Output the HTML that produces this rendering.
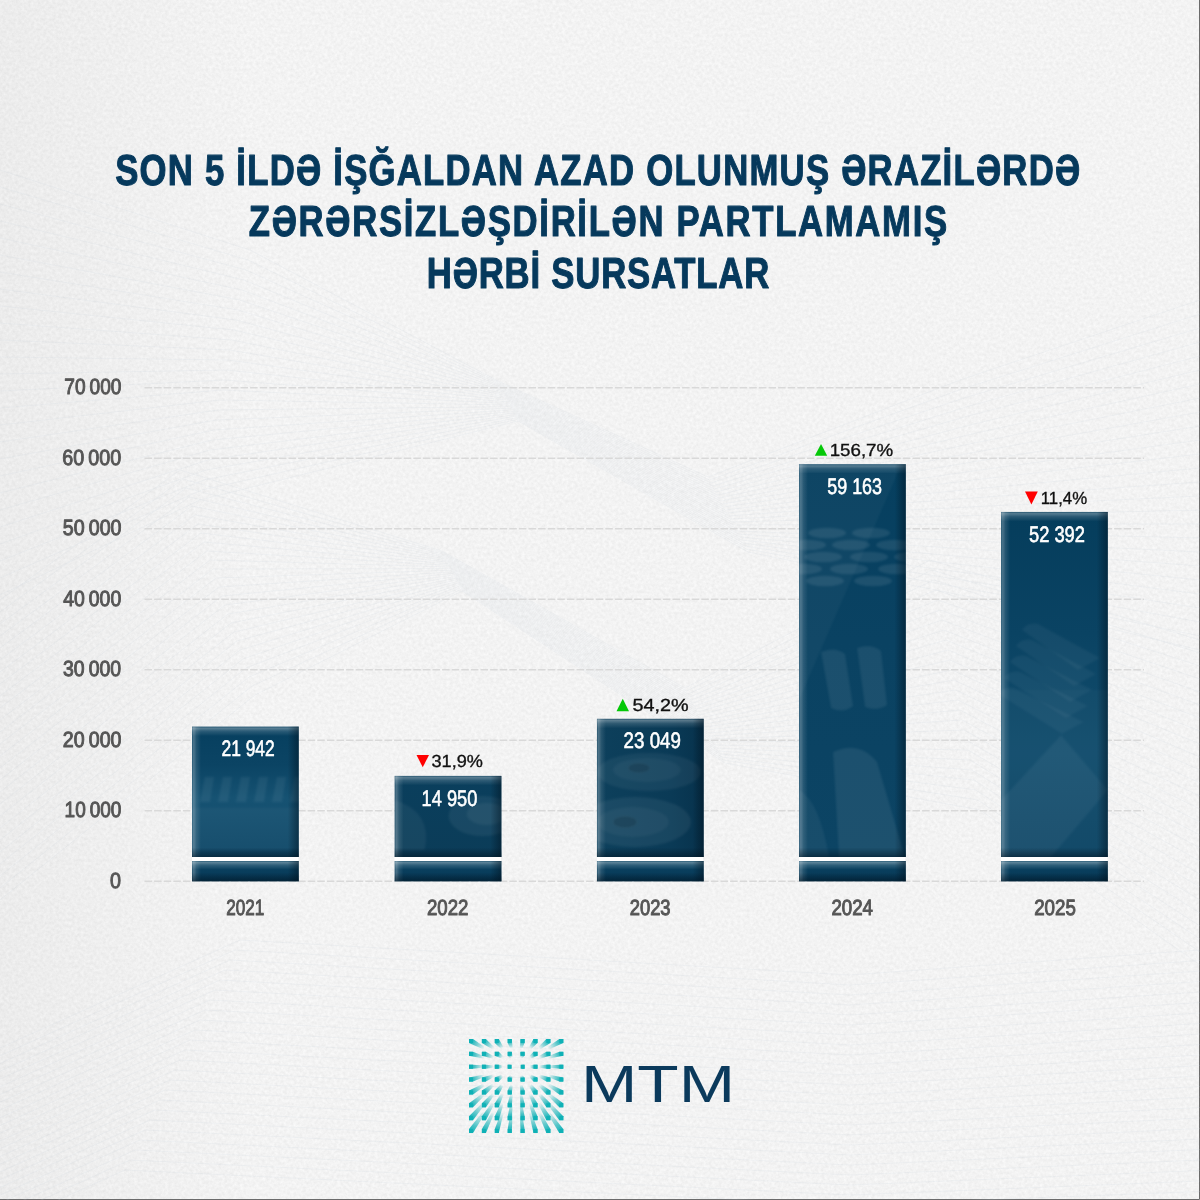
<!DOCTYPE html>
<html lang="az">
<head>
<meta charset="utf-8">
<title>MTM – Zərərsizləşdirilən partlamamış hərbi sursatlar</title>
<style>
html,body{margin:0;padding:0;background:#f3f3f3;}
body{width:1200px;height:1200px;overflow:hidden;position:relative;font-family:"Liberation Sans",sans-serif;}
#stage{position:absolute;left:0;top:0;width:1200px;height:1200px;display:block;}
text{font-family:"Liberation Sans",sans-serif;text-rendering:geometricPrecision;}
.ttl{font-weight:700;fill:#06395c;stroke:#06395c;stroke-width:1.1px;stroke-linejoin:round;vector-effect:non-scaling-stroke;}
.ax{word-spacing:-1.5px;font-weight:400;fill:#555;stroke:#555;stroke-width:1px;stroke-linejoin:round;}
.val{font-weight:400;fill:#fff;stroke:#fff;stroke-width:.6px;stroke-linejoin:round;}
.pct{font-weight:400;fill:#111;stroke:#111;stroke-width:.35px;}
.mtm{font-weight:400;fill:#0b3a5c;}
</style>
</head>
<body>
<svg id="stage" width="1200" height="1200" viewBox="0 0 1200 1200">
<defs>
<filter id="paper" x="0" y="0" width="100%" height="100%" color-interpolation-filters="sRGB">
<feTurbulence type="fractalNoise" baseFrequency="0.32" numOctaves="4" seed="7"/>
<feColorMatrix type="matrix" values="0.075 0 0 0 0.915  0.075 0 0 0 0.915  0.075 0 0 0 0.915  0 0 0 0 1"/>
</filter>
<linearGradient id="vL" x1="0" y1="0" x2="1" y2="0"><stop offset="0" stop-color="#000" stop-opacity=".03"/><stop offset="1" stop-color="#000" stop-opacity="0"/></linearGradient>
</defs>
<rect id="bg" x="0" y="0" width="1200" height="1200" fill="#f3f3f3" filter="url(#paper)"/>
<rect id="vig" x="0" y="0" width="260" height="1200" fill="url(#vL)"/>
<path d="M0 1199.5H1199.5V0" fill="none" stroke="#6b6b6b" stroke-width="1"/>

<g id="deco" fill="none" stroke="#c3cfda" stroke-width=".6" opacity=".25">
<polyline points="0.0,170.0 250.0,250.0 498.0,381.0 708.0,477.0 960.0,380.0 1200.0,300.0"/>
<polyline points="0.0,187.0 248.0,260.0 498.8,382.6 709.6,480.0 962.0,389.0 1200.0,314.0"/>
<polyline points="0.0,204.0 246.0,270.0 499.6,384.2 711.2,483.0 964.0,398.0 1200.0,328.0"/>
<polyline points="0.0,221.0 244.0,280.0 500.4,385.8 712.8,486.0 966.0,407.0 1200.0,342.0"/>
<polyline points="0.0,238.0 242.0,290.0 501.2,387.4 714.4,489.0 968.0,416.0 1200.0,356.0"/>
<polyline points="0.0,255.0 240.0,300.0 502.0,389.0 716.0,492.0 970.0,425.0 1200.0,370.0"/>
<polyline points="0.0,272.0 238.0,310.0 502.8,390.6 717.6,495.0 972.0,434.0 1200.0,384.0"/>
<polyline points="0.0,289.0 236.0,320.0 503.6,392.2 719.2,498.0 974.0,443.0 1200.0,398.0"/>
<polyline points="0.0,306.0 234.0,330.0 504.4,393.8 720.8,501.0 976.0,452.0 1200.0,412.0"/>
<polyline points="0.0,323.0 232.0,340.0 505.2,395.4 722.4,504.0 978.0,461.0 1200.0,426.0"/>
<polyline points="0.0,340.0 230.0,350.0 506.0,397.0 724.0,507.0 980.0,470.0 1200.0,440.0"/>
<polyline points="0.0,357.0 228.0,360.0 506.8,398.6 725.6,510.0 982.0,479.0 1200.0,454.0"/>
<polyline points="0.0,374.0 226.0,370.0 507.6,400.2 727.2,513.0 984.0,488.0 1200.0,468.0"/>
<polyline points="0.0,391.0 224.0,380.0 508.4,401.8 728.8,516.0 986.0,497.0 1200.0,482.0"/>
<polyline points="0.0,408.0 222.0,390.0 509.2,403.4 730.4,519.0 988.0,506.0 1200.0,496.0"/>
<polyline points="0.0,425.0 220.0,400.0 510.0,405.0 732.0,522.0 990.0,515.0 1200.0,510.0"/>
<polyline points="0.0,442.0 218.0,410.0 510.8,406.6 733.6,525.0 992.0,524.0 1200.0,524.0"/>
<polyline points="0.0,459.0 216.0,420.0 511.6,408.2 735.2,528.0 994.0,533.0 1200.0,538.0"/>
<polyline points="0.0,476.0 214.0,430.0 512.4,409.8 736.8,531.0 996.0,542.0 1200.0,552.0"/>
<polyline points="0.0,493.0 212.0,440.0 513.2,411.4 738.4,534.0 998.0,551.0 1200.0,566.0"/>
<polyline points="0.0,510.0 210.0,450.0 514.0,413.0 740.0,537.0 1000.0,560.0 1200.0,580.0"/>
<polyline points="0.0,527.0 208.0,460.0 514.8,414.6 741.6,540.0 1002.0,569.0 1200.0,594.0"/>
<polyline points="0.0,544.0 206.0,470.0 515.6,416.2 743.2,543.0 1004.0,578.0 1200.0,608.0"/>
<polyline points="0.0,561.0 204.0,480.0 516.4,417.8 744.8,546.0 1006.0,587.0 1200.0,622.0"/>
<polyline points="0.0,578.0 202.0,490.0 517.2,419.4 746.4,549.0 1008.0,596.0 1200.0,636.0"/>
<polyline points="0.0,595.0 200.0,500.0 518.0,421.0 748.0,552.0 1010.0,605.0 1200.0,650.0"/>
<polyline points="0.0,600.0 180.0,470.0 442.0,551.0 685.0,688.0 930.0,560.0 1200.0,640.0"/>
<polyline points="0.0,612.0 183.0,479.0 442.8,552.6 686.6,691.0 932.0,570.0 1200.0,653.0"/>
<polyline points="0.0,624.0 186.0,488.0 443.6,554.2 688.2,694.0 934.0,580.0 1200.0,666.0"/>
<polyline points="0.0,636.0 189.0,497.0 444.4,555.8 689.8,697.0 936.0,590.0 1200.0,679.0"/>
<polyline points="0.0,648.0 192.0,506.0 445.2,557.4 691.4,700.0 938.0,600.0 1200.0,692.0"/>
<polyline points="0.0,660.0 195.0,515.0 446.0,559.0 693.0,703.0 940.0,610.0 1200.0,705.0"/>
<polyline points="0.0,672.0 198.0,524.0 446.8,560.6 694.6,706.0 942.0,620.0 1200.0,718.0"/>
<polyline points="0.0,684.0 201.0,533.0 447.6,562.2 696.2,709.0 944.0,630.0 1200.0,731.0"/>
<polyline points="0.0,696.0 204.0,542.0 448.4,563.8 697.8,712.0 946.0,640.0 1200.0,744.0"/>
<polyline points="0.0,708.0 207.0,551.0 449.2,565.4 699.4,715.0 948.0,650.0 1200.0,757.0"/>
<polyline points="0.0,720.0 210.0,560.0 450.0,567.0 701.0,718.0 950.0,660.0 1200.0,770.0"/>
<polyline points="0.0,732.0 213.0,569.0 450.8,568.6 702.6,721.0 952.0,670.0 1200.0,783.0"/>
<polyline points="0.0,744.0 216.0,578.0 451.6,570.2 704.2,724.0 954.0,680.0 1200.0,796.0"/>
<polyline points="0.0,756.0 219.0,587.0 452.4,571.8 705.8,727.0 956.0,690.0 1200.0,809.0"/>
<polyline points="0.0,768.0 222.0,596.0 453.2,573.4 707.4,730.0 958.0,700.0 1200.0,822.0"/>
<polyline points="0.0,780.0 225.0,605.0 454.0,575.0 709.0,733.0 960.0,710.0 1200.0,835.0"/>
<polyline points="0.0,792.0 228.0,614.0 454.8,576.6 710.6,736.0 962.0,720.0 1200.0,848.0"/>
<polyline points="0.0,804.0 231.0,623.0 455.6,578.2 712.2,739.0 964.0,730.0 1200.0,861.0"/>
<polyline points="0.0,816.0 234.0,632.0 456.4,579.8 713.8,742.0 966.0,740.0 1200.0,874.0"/>
<polyline points="0.0,828.0 237.0,641.0 457.2,581.4 715.4,745.0 968.0,750.0 1200.0,887.0"/>
<polyline points="0.0,840.0 240.0,650.0 458.0,583.0 717.0,748.0 970.0,760.0 1200.0,900.0"/>
<polyline points="0.0,852.0 243.0,659.0 458.8,584.6 718.6,751.0 972.0,770.0 1200.0,913.0"/>
<polyline points="0.0,864.0 246.0,668.0 459.6,586.2 720.2,754.0 974.0,780.0 1200.0,926.0"/>
<polyline points="0.0,876.0 249.0,677.0 460.4,587.8 721.8,757.0 976.0,790.0 1200.0,939.0"/>
<polyline points="0.0,888.0 252.0,686.0 461.2,589.4 723.4,760.0 978.0,800.0 1200.0,952.0"/>
<polyline points="0.0,900.0 255.0,695.0 462.0,591.0 725.0,763.0 980.0,810.0 1200.0,965.0"/>
<polyline points="0.0,1048.0 240.0,940.0 850.0,975.0 1200.0,950.0"/>
<polyline points="0.0,1055.8 235.0,950.0 850.0,985.0 1200.0,960.5"/>
<polyline points="0.0,1063.5 230.0,960.0 850.0,995.0 1200.0,971.0"/>
<polyline points="0.0,1071.2 225.0,970.0 850.0,1005.0 1200.0,981.5"/>
<polyline points="0.0,1079.0 220.0,980.0 850.0,1015.0 1200.0,992.0"/>
<polyline points="0.0,1086.8 215.0,990.0 850.0,1025.0 1200.0,1002.5"/>
<polyline points="0.0,1094.5 210.0,1000.0 850.0,1035.0 1200.0,1013.0"/>
<polyline points="0.0,1102.2 205.0,1010.0 850.0,1045.0 1200.0,1023.5"/>
<polyline points="0.0,1110.0 200.0,1020.0 850.0,1055.0 1200.0,1034.0"/>
<polyline points="0.0,1117.8 195.0,1030.0 850.0,1065.0 1200.0,1044.5"/>
<polyline points="0.0,1125.5 190.0,1040.0 850.0,1075.0 1200.0,1055.0"/>
<polyline points="0.0,1133.2 185.0,1050.0 850.0,1085.0 1200.0,1065.5"/>
<polyline points="0.0,1141.0 180.0,1060.0 850.0,1095.0 1200.0,1076.0"/>
<polyline points="0.0,1148.8 175.0,1070.0 850.0,1105.0 1200.0,1086.5"/>
<polyline points="0.0,1156.5 170.0,1080.0 850.0,1115.0 1200.0,1097.0"/>
<polyline points="0.0,1164.2 165.0,1090.0 850.0,1125.0 1200.0,1107.5"/>
<polyline points="0.0,1172.0 160.0,1100.0 850.0,1135.0 1200.0,1118.0"/>
<polyline points="0.0,1179.8 155.0,1110.0 850.0,1145.0 1200.0,1128.5"/>
<polyline points="0.0,1187.5 150.0,1120.0 850.0,1155.0 1200.0,1139.0"/>
<polyline points="0.0,1195.2 145.0,1130.0 850.0,1165.0 1200.0,1149.5"/>
<polyline points="0.0,1203.0 140.0,1140.0 850.0,1175.0 1200.0,1160.0"/>
<polyline points="0.0,1210.8 135.0,1150.0 850.0,1185.0 1200.0,1170.5"/>
<polyline points="0.0,1218.5 130.0,1160.0 850.0,1195.0 1200.0,1181.0"/>
<polyline points="0.0,1226.2 125.0,1170.0 850.0,1205.0 1200.0,1191.5"/>
</g>
<g id="grid">
<line x1="144.5" y1="881.30" x2="1144" y2="881.30" stroke="#d9d9d9" stroke-width="1.4" stroke-dasharray="7.5 2.1"/>
<line x1="144.5" y1="810.80" x2="1144" y2="810.80" stroke="#d9d9d9" stroke-width="1.4" stroke-dasharray="7.5 2.1"/>
<line x1="144.5" y1="740.30" x2="1144" y2="740.30" stroke="#d9d9d9" stroke-width="1.4" stroke-dasharray="7.5 2.1"/>
<line x1="144.5" y1="669.80" x2="1144" y2="669.80" stroke="#d9d9d9" stroke-width="1.4" stroke-dasharray="7.5 2.1"/>
<line x1="144.5" y1="599.30" x2="1144" y2="599.30" stroke="#d9d9d9" stroke-width="1.4" stroke-dasharray="7.5 2.1"/>
<line x1="144.5" y1="528.80" x2="1144" y2="528.80" stroke="#d9d9d9" stroke-width="1.4" stroke-dasharray="7.5 2.1"/>
<line x1="144.5" y1="458.30" x2="1144" y2="458.30" stroke="#d9d9d9" stroke-width="1.4" stroke-dasharray="7.5 2.1"/>
<line x1="144.5" y1="387.80" x2="1144" y2="387.80" stroke="#d9d9d9" stroke-width="1.4" stroke-dasharray="7.5 2.1"/>
</g>
<defs>
<filter id="soft" x="-10%" y="-10%" width="120%" height="120%"><feGaussianBlur stdDeviation="1.3"/></filter>
<linearGradient id="hT" x1="0" y1="0" x2="0" y2="1"><stop offset="0" stop-color="#fff" stop-opacity=".14"/><stop offset=".18" stop-color="#fff" stop-opacity=".32"/><stop offset=".5" stop-color="#fff" stop-opacity=".14"/><stop offset="1" stop-color="#fff" stop-opacity="0"/></linearGradient>
<linearGradient id="hL" x1="0" y1="0" x2="1" y2="0"><stop offset="0" stop-color="#fff" stop-opacity=".12"/><stop offset=".18" stop-color="#fff" stop-opacity=".27"/><stop offset=".5" stop-color="#fff" stop-opacity=".11"/><stop offset="1" stop-color="#fff" stop-opacity="0"/></linearGradient>
<linearGradient id="sR" x1="1" y1="0" x2="0" y2="0"><stop offset="0" stop-color="#00121f" stop-opacity=".5"/><stop offset=".45" stop-color="#00121f" stop-opacity=".28"/><stop offset="1" stop-color="#00121f" stop-opacity="0"/></linearGradient>
<linearGradient id="sB" x1="0" y1="1" x2="0" y2="0"><stop offset="0" stop-color="#00121f" stop-opacity=".52"/><stop offset=".45" stop-color="#00121f" stop-opacity=".28"/><stop offset="1" stop-color="#00121f" stop-opacity="0"/></linearGradient>
<linearGradient id="b0" x1="0" y1="0" x2="0" y2="1"><stop offset="0" stop-color="#063f5f"/><stop offset=".3" stop-color="#0b4464"/><stop offset=".55" stop-color="#165272"/><stop offset="1" stop-color="#0e4767"/></linearGradient>
<linearGradient id="b1" x1="0" y1="0" x2="0" y2="1"><stop offset="0" stop-color="#0a3f5d"/><stop offset="1" stop-color="#0b3c58"/></linearGradient>
<linearGradient id="b2" x1="0" y1="0" x2="1" y2="0"><stop offset="0" stop-color="#0d405c"/><stop offset=".7" stop-color="#0a3a56"/><stop offset="1" stop-color="#07324c"/></linearGradient>
<linearGradient id="b3" x1="0" y1="0" x2="0" y2="1"><stop offset="0" stop-color="#063f5f"/><stop offset=".45" stop-color="#0a4262"/><stop offset="1" stop-color="#0c4464"/></linearGradient>
<linearGradient id="b4" x1="0" y1="0" x2="0" y2="1"><stop offset="0" stop-color="#053d5c"/><stop offset=".35" stop-color="#0a4363"/><stop offset=".7" stop-color="#124d6d"/><stop offset="1" stop-color="#0d4565"/></linearGradient>
<linearGradient id="bl" x1="0" y1="0" x2="0" y2="1"><stop offset="0" stop-color="#0c4666"/><stop offset="1" stop-color="#063653"/></linearGradient>
<clipPath id="c0"><rect x="192.00" y="726.61" width="106.75" height="130.39"/></clipPath>
<clipPath id="c1"><rect x="394.65" y="775.90" width="106.75" height="81.10"/></clipPath>
<clipPath id="c2"><rect x="596.95" y="718.80" width="106.75" height="138.20"/></clipPath>
<clipPath id="c3"><rect x="799.05" y="464.20" width="106.75" height="392.80"/></clipPath>
<clipPath id="c4"><rect x="1001.05" y="511.94" width="106.75" height="345.06"/></clipPath>
</defs>
<g id="bars">
<rect x="192.00" y="726.61" width="106.75" height="130.39" fill="url(#b0)"/>
<g clip-path="url(#c0)" fill="#fff" filter="url(#soft)">
<path d="M200.0 802l5-25h9l-4 25z" opacity=".055"/>
<path d="M218.0 802l5-25h9l-4 25z" opacity=".055"/>
<path d="M236.0 802l5-25h9l-4 25z" opacity=".055"/>
<path d="M254.0 802l5-25h9l-4 25z" opacity=".055"/>
<path d="M272.0 802l5-25h9l-4 25z" opacity=".055"/>
<path d="M290.0 802l5-25h9l-4 25z" opacity=".055"/>
<rect x="192.0" y="808" width="106.75" height="42" opacity=".035"/>
</g>
<rect x="192.00" y="861" width="106.75" height="20.3" fill="url(#bl)"/>
<rect x="192.00" y="726.61" width="106.75" height="9.50" fill="url(#hT)"/>
<rect x="192.00" y="726.61" width="9" height="130.39" fill="url(#hL)"/>
<rect x="287.75" y="726.61" width="11" height="130.39" fill="url(#sR)"/>
<rect x="192.00" y="847.50" width="106.75" height="9.50" fill="url(#sB)"/>
<rect x="192.00" y="861.00" width="106.75" height="8.53" fill="url(#hT)"/>
<rect x="192.00" y="861.00" width="9" height="20.30" fill="url(#hL)"/>
<rect x="287.75" y="861.00" width="11" height="20.30" fill="url(#sR)"/>
<rect x="192.00" y="872.77" width="106.75" height="8.53" fill="url(#sB)"/>
<rect x="192.00" y="857" width="106.25" height="4" fill="#ffffff"/>
<rect x="394.65" y="775.90" width="106.75" height="81.10" fill="url(#b1)"/>
<g clip-path="url(#c1)" fill="#fff" filter="url(#soft)">
<ellipse cx="482.65" cy="816" rx="34" ry="20" opacity=".06"/>
<ellipse cx="486.65" cy="814" rx="20" ry="11" opacity=".05"/>
<path d="M394.65 800q38 12 30 50h-30z" opacity=".05"/>
</g>
<rect x="394.65" y="861" width="106.75" height="20.3" fill="url(#bl)"/>
<rect x="394.65" y="775.90" width="106.75" height="9.50" fill="url(#hT)"/>
<rect x="394.65" y="775.90" width="9" height="81.10" fill="url(#hL)"/>
<rect x="490.40" y="775.90" width="11" height="81.10" fill="url(#sR)"/>
<rect x="394.65" y="847.50" width="106.75" height="9.50" fill="url(#sB)"/>
<rect x="394.65" y="861.00" width="106.75" height="8.53" fill="url(#hT)"/>
<rect x="394.65" y="861.00" width="9" height="20.30" fill="url(#hL)"/>
<rect x="490.40" y="861.00" width="11" height="20.30" fill="url(#sR)"/>
<rect x="394.65" y="872.77" width="106.75" height="8.53" fill="url(#sB)"/>
<rect x="394.65" y="857" width="106.25" height="4" fill="#ffffff"/>
<rect x="596.95" y="718.80" width="106.75" height="138.20" fill="url(#b2)"/>
<g clip-path="url(#c2)" fill="#fff" filter="url(#soft)">
<ellipse cx="648.95" cy="772" rx="52" ry="19" opacity=".05"/>
<ellipse cx="646.95" cy="770" rx="34" ry="12" opacity=".04"/>
<ellipse cx="638.95" cy="768" rx="11" ry="5" fill="#000" opacity=".12"/>
<ellipse cx="634.95" cy="822" rx="56" ry="25" opacity=".06"/>
<ellipse cx="632.95" cy="822" rx="36" ry="15" opacity=".04"/>
<ellipse cx="624.95" cy="822" rx="12" ry="6" fill="#000" opacity=".12"/>
</g>
<rect x="596.95" y="861" width="106.75" height="20.3" fill="url(#bl)"/>
<rect x="596.95" y="718.80" width="106.75" height="9.50" fill="url(#hT)"/>
<rect x="596.95" y="718.80" width="9" height="138.20" fill="url(#hL)"/>
<rect x="692.70" y="718.80" width="11" height="138.20" fill="url(#sR)"/>
<rect x="596.95" y="847.50" width="106.75" height="9.50" fill="url(#sB)"/>
<rect x="596.95" y="861.00" width="106.75" height="8.53" fill="url(#hT)"/>
<rect x="596.95" y="861.00" width="9" height="20.30" fill="url(#hL)"/>
<rect x="692.70" y="861.00" width="11" height="20.30" fill="url(#sR)"/>
<rect x="596.95" y="872.77" width="106.75" height="8.53" fill="url(#sB)"/>
<rect x="596.95" y="857" width="106.25" height="4" fill="#ffffff"/>
<rect x="799.05" y="464.20" width="106.75" height="392.80" fill="url(#b3)"/>
<g clip-path="url(#c3)" fill="#fff" filter="url(#soft)">
<path d="M799.05 470H899.05L799.05 700z" opacity=".035"/>
<ellipse cx="827.05" cy="533" rx="19" ry="5.2" opacity=".085"/>
<ellipse cx="871.05" cy="533" rx="19" ry="5.2" opacity=".085"/>
<ellipse cx="807.05" cy="545" rx="19" ry="5.2" opacity=".085"/>
<ellipse cx="851.05" cy="545" rx="19" ry="5.2" opacity=".085"/>
<ellipse cx="895.05" cy="545" rx="19" ry="5.2" opacity=".085"/>
<ellipse cx="823.05" cy="557" rx="19" ry="5.2" opacity=".085"/>
<ellipse cx="869.05" cy="557" rx="19" ry="5.2" opacity=".085"/>
<ellipse cx="913.05" cy="557" rx="19" ry="5.2" opacity=".085"/>
<ellipse cx="803.05" cy="569" rx="19" ry="5.2" opacity=".085"/>
<ellipse cx="849.05" cy="569" rx="19" ry="5.2" opacity=".085"/>
<ellipse cx="897.05" cy="569" rx="19" ry="5.2" opacity=".085"/>
<ellipse cx="825.05" cy="581" rx="19" ry="5.2" opacity=".085"/>
<ellipse cx="873.05" cy="581" rx="19" ry="5.2" opacity=".085"/>
<path d="M821.05 652q14-6 24 2l8 52q-10 8-22 2z" opacity=".07"/>
<path d="M857.05 648q14-5 24 3l6 54q-10 7-22 2z" opacity=".07"/>
<path d="M833.05 752q26-12 44 10l28 95H839.05z" opacity=".07"/>
<path d="M799.05 790q20 10 30 67H799.05z" opacity=".05"/>
</g>
<rect x="799.05" y="861" width="106.75" height="20.3" fill="url(#bl)"/>
<rect x="799.05" y="464.20" width="106.75" height="9.50" fill="url(#hT)"/>
<rect x="799.05" y="464.20" width="9" height="392.80" fill="url(#hL)"/>
<rect x="894.80" y="464.20" width="11" height="392.80" fill="url(#sR)"/>
<rect x="799.05" y="847.50" width="106.75" height="9.50" fill="url(#sB)"/>
<rect x="799.05" y="861.00" width="106.75" height="8.53" fill="url(#hT)"/>
<rect x="799.05" y="861.00" width="9" height="20.30" fill="url(#hL)"/>
<rect x="894.80" y="861.00" width="11" height="20.30" fill="url(#sR)"/>
<rect x="799.05" y="872.77" width="106.75" height="8.53" fill="url(#sB)"/>
<rect x="799.05" y="857" width="106.25" height="4" fill="#ffffff"/>
<rect x="1001.05" y="511.94" width="106.75" height="345.06" fill="url(#b4)"/>
<g clip-path="url(#c4)" fill="#fff" filter="url(#soft)">
<path d="M1100.0 658L1038.0 624q-10-2-16 6L1078.0 670z" opacity=".045"/>
<path d="M1096.0 674L1032.0 640q-10-2-16 6L1074.0 686z" opacity=".045"/>
<path d="M1092.0 690L1026.0 656q-10-2-16 6L1070.0 702z" opacity=".045"/>
<path d="M1088.0 706L1020.0 672q-10-2-16 6L1066.0 718z" opacity=".045"/>
<path d="M1084.0 722L1014.0 688q-10-2-16 6L1062.0 734z" opacity=".045"/>
<path d="M1001.05 800L1061.05 735L1108.05 790L1051.05 857H1001.05z" opacity=".05"/>
<rect x="1001.05" y="690" width="106.75" height="170" opacity=".02"/>
</g>
<rect x="1001.05" y="861" width="106.75" height="20.3" fill="url(#bl)"/>
<rect x="1001.05" y="511.94" width="106.75" height="9.50" fill="url(#hT)"/>
<rect x="1001.05" y="511.94" width="9" height="345.06" fill="url(#hL)"/>
<rect x="1096.80" y="511.94" width="11" height="345.06" fill="url(#sR)"/>
<rect x="1001.05" y="847.50" width="106.75" height="9.50" fill="url(#sB)"/>
<rect x="1001.05" y="861.00" width="106.75" height="8.53" fill="url(#hT)"/>
<rect x="1001.05" y="861.00" width="9" height="20.30" fill="url(#hL)"/>
<rect x="1096.80" y="861.00" width="11" height="20.30" fill="url(#sR)"/>
<rect x="1001.05" y="872.77" width="106.75" height="8.53" fill="url(#sB)"/>
<rect x="1001.05" y="857" width="106.25" height="4" fill="#ffffff"/>
</g>
<g id="tri">
<path d="M416.50 755.00L429.00 755.00L422.75 767.20Z" fill="#ff0000"/>
<path d="M616.50 711.20L629.00 711.20L622.75 698.80Z" fill="#05c808"/>
<path d="M814.80 455.80L827.20 455.80L821.00 444.00Z" fill="#05c808"/>
<path d="M1025.00 491.50L1037.80 491.50L1031.40 504.50Z" fill="#ff0000"/>
</g>
<g id="logo"><defs><linearGradient id="g00" gradientUnits="userSpaceOnUse" x1="471.00" y1="1041.00" x2="484.17" y2="1048.31"><stop offset="0" stop-color="#0fb1b6"/><stop offset=".15" stop-color="#0fb1b6" stop-opacity=".85"/><stop offset="1" stop-color="#0fb1b6" stop-opacity="0"/></linearGradient><linearGradient id="g01" gradientUnits="userSpaceOnUse" x1="483.90" y1="1041.00" x2="493.32" y2="1048.31"><stop offset="0" stop-color="#0fb1b6"/><stop offset=".15" stop-color="#0fb1b6" stop-opacity=".85"/><stop offset="1" stop-color="#0fb1b6" stop-opacity="0"/></linearGradient><linearGradient id="g02" gradientUnits="userSpaceOnUse" x1="496.80" y1="1041.00" x2="502.48" y2="1048.31"><stop offset="0" stop-color="#0fb1b6"/><stop offset=".15" stop-color="#0fb1b6" stop-opacity=".85"/><stop offset="1" stop-color="#0fb1b6" stop-opacity="0"/></linearGradient><linearGradient id="g03" gradientUnits="userSpaceOnUse" x1="509.70" y1="1041.00" x2="511.64" y2="1048.31"><stop offset="0" stop-color="#0fb1b6"/><stop offset=".15" stop-color="#0fb1b6" stop-opacity=".85"/><stop offset="1" stop-color="#0fb1b6" stop-opacity="0"/></linearGradient><linearGradient id="g04" gradientUnits="userSpaceOnUse" x1="522.60" y1="1041.00" x2="520.80" y2="1048.31"><stop offset="0" stop-color="#0fb1b6"/><stop offset=".15" stop-color="#0fb1b6" stop-opacity=".85"/><stop offset="1" stop-color="#0fb1b6" stop-opacity="0"/></linearGradient><linearGradient id="g05" gradientUnits="userSpaceOnUse" x1="535.50" y1="1041.00" x2="529.96" y2="1048.31"><stop offset="0" stop-color="#0fb1b6"/><stop offset=".15" stop-color="#0fb1b6" stop-opacity=".85"/><stop offset="1" stop-color="#0fb1b6" stop-opacity="0"/></linearGradient><linearGradient id="g06" gradientUnits="userSpaceOnUse" x1="548.40" y1="1041.00" x2="539.12" y2="1048.31"><stop offset="0" stop-color="#0fb1b6"/><stop offset=".15" stop-color="#0fb1b6" stop-opacity=".85"/><stop offset="1" stop-color="#0fb1b6" stop-opacity="0"/></linearGradient><linearGradient id="g07" gradientUnits="userSpaceOnUse" x1="561.30" y1="1041.00" x2="548.28" y2="1048.31"><stop offset="0" stop-color="#0fb1b6"/><stop offset=".15" stop-color="#0fb1b6" stop-opacity=".85"/><stop offset="1" stop-color="#0fb1b6" stop-opacity="0"/></linearGradient><linearGradient id="g10" gradientUnits="userSpaceOnUse" x1="471.00" y1="1053.86" x2="484.17" y2="1057.44"><stop offset="0" stop-color="#0fb1b6"/><stop offset=".15" stop-color="#0fb1b6" stop-opacity=".85"/><stop offset="1" stop-color="#0fb1b6" stop-opacity="0"/></linearGradient><linearGradient id="g11" gradientUnits="userSpaceOnUse" x1="483.90" y1="1053.86" x2="493.32" y2="1057.44"><stop offset="0" stop-color="#0fb1b6"/><stop offset=".15" stop-color="#0fb1b6" stop-opacity=".85"/><stop offset="1" stop-color="#0fb1b6" stop-opacity="0"/></linearGradient><linearGradient id="g12" gradientUnits="userSpaceOnUse" x1="496.80" y1="1053.86" x2="502.48" y2="1057.44"><stop offset="0" stop-color="#0fb1b6"/><stop offset=".15" stop-color="#0fb1b6" stop-opacity=".85"/><stop offset="1" stop-color="#0fb1b6" stop-opacity="0"/></linearGradient><linearGradient id="g13" gradientUnits="userSpaceOnUse" x1="509.70" y1="1053.86" x2="511.64" y2="1057.44"><stop offset="0" stop-color="#0fb1b6"/><stop offset=".15" stop-color="#0fb1b6" stop-opacity=".85"/><stop offset="1" stop-color="#0fb1b6" stop-opacity="0"/></linearGradient><linearGradient id="g14" gradientUnits="userSpaceOnUse" x1="522.60" y1="1053.86" x2="520.80" y2="1057.44"><stop offset="0" stop-color="#0fb1b6"/><stop offset=".15" stop-color="#0fb1b6" stop-opacity=".85"/><stop offset="1" stop-color="#0fb1b6" stop-opacity="0"/></linearGradient><linearGradient id="g15" gradientUnits="userSpaceOnUse" x1="535.50" y1="1053.86" x2="529.96" y2="1057.44"><stop offset="0" stop-color="#0fb1b6"/><stop offset=".15" stop-color="#0fb1b6" stop-opacity=".85"/><stop offset="1" stop-color="#0fb1b6" stop-opacity="0"/></linearGradient><linearGradient id="g16" gradientUnits="userSpaceOnUse" x1="548.40" y1="1053.86" x2="539.12" y2="1057.44"><stop offset="0" stop-color="#0fb1b6"/><stop offset=".15" stop-color="#0fb1b6" stop-opacity=".85"/><stop offset="1" stop-color="#0fb1b6" stop-opacity="0"/></linearGradient><linearGradient id="g17" gradientUnits="userSpaceOnUse" x1="561.30" y1="1053.86" x2="548.28" y2="1057.44"><stop offset="0" stop-color="#0fb1b6"/><stop offset=".15" stop-color="#0fb1b6" stop-opacity=".85"/><stop offset="1" stop-color="#0fb1b6" stop-opacity="0"/></linearGradient><linearGradient id="g20" gradientUnits="userSpaceOnUse" x1="471.00" y1="1066.72" x2="484.17" y2="1066.57"><stop offset="0" stop-color="#0fb1b6"/><stop offset=".15" stop-color="#0fb1b6" stop-opacity=".85"/><stop offset="1" stop-color="#0fb1b6" stop-opacity="0"/></linearGradient><linearGradient id="g21" gradientUnits="userSpaceOnUse" x1="483.90" y1="1066.72" x2="493.32" y2="1066.57"><stop offset="0" stop-color="#0fb1b6"/><stop offset=".15" stop-color="#0fb1b6" stop-opacity=".85"/><stop offset="1" stop-color="#0fb1b6" stop-opacity="0"/></linearGradient><linearGradient id="g22" gradientUnits="userSpaceOnUse" x1="496.80" y1="1066.72" x2="502.48" y2="1066.57"><stop offset="0" stop-color="#0fb1b6"/><stop offset=".15" stop-color="#0fb1b6" stop-opacity=".85"/><stop offset="1" stop-color="#0fb1b6" stop-opacity="0"/></linearGradient><linearGradient id="g23" gradientUnits="userSpaceOnUse" x1="509.70" y1="1066.72" x2="511.64" y2="1066.57"><stop offset="0" stop-color="#0fb1b6"/><stop offset=".15" stop-color="#0fb1b6" stop-opacity=".85"/><stop offset="1" stop-color="#0fb1b6" stop-opacity="0"/></linearGradient><linearGradient id="g24" gradientUnits="userSpaceOnUse" x1="522.60" y1="1066.72" x2="520.80" y2="1066.57"><stop offset="0" stop-color="#0fb1b6"/><stop offset=".15" stop-color="#0fb1b6" stop-opacity=".85"/><stop offset="1" stop-color="#0fb1b6" stop-opacity="0"/></linearGradient><linearGradient id="g25" gradientUnits="userSpaceOnUse" x1="535.50" y1="1066.72" x2="529.96" y2="1066.57"><stop offset="0" stop-color="#0fb1b6"/><stop offset=".15" stop-color="#0fb1b6" stop-opacity=".85"/><stop offset="1" stop-color="#0fb1b6" stop-opacity="0"/></linearGradient><linearGradient id="g26" gradientUnits="userSpaceOnUse" x1="548.40" y1="1066.72" x2="539.12" y2="1066.57"><stop offset="0" stop-color="#0fb1b6"/><stop offset=".15" stop-color="#0fb1b6" stop-opacity=".85"/><stop offset="1" stop-color="#0fb1b6" stop-opacity="0"/></linearGradient><linearGradient id="g27" gradientUnits="userSpaceOnUse" x1="561.30" y1="1066.72" x2="548.28" y2="1066.57"><stop offset="0" stop-color="#0fb1b6"/><stop offset=".15" stop-color="#0fb1b6" stop-opacity=".85"/><stop offset="1" stop-color="#0fb1b6" stop-opacity="0"/></linearGradient><linearGradient id="g30" gradientUnits="userSpaceOnUse" x1="471.00" y1="1079.58" x2="484.17" y2="1075.70"><stop offset="0" stop-color="#0fb1b6"/><stop offset=".15" stop-color="#0fb1b6" stop-opacity=".85"/><stop offset="1" stop-color="#0fb1b6" stop-opacity="0"/></linearGradient><linearGradient id="g31" gradientUnits="userSpaceOnUse" x1="483.90" y1="1079.58" x2="493.32" y2="1075.70"><stop offset="0" stop-color="#0fb1b6"/><stop offset=".15" stop-color="#0fb1b6" stop-opacity=".85"/><stop offset="1" stop-color="#0fb1b6" stop-opacity="0"/></linearGradient><linearGradient id="g32" gradientUnits="userSpaceOnUse" x1="496.80" y1="1079.58" x2="502.48" y2="1075.70"><stop offset="0" stop-color="#0fb1b6"/><stop offset=".15" stop-color="#0fb1b6" stop-opacity=".85"/><stop offset="1" stop-color="#0fb1b6" stop-opacity="0"/></linearGradient><linearGradient id="g33" gradientUnits="userSpaceOnUse" x1="509.70" y1="1079.58" x2="511.64" y2="1075.70"><stop offset="0" stop-color="#0fb1b6"/><stop offset=".15" stop-color="#0fb1b6" stop-opacity=".85"/><stop offset="1" stop-color="#0fb1b6" stop-opacity="0"/></linearGradient><linearGradient id="g34" gradientUnits="userSpaceOnUse" x1="522.60" y1="1079.58" x2="520.80" y2="1075.70"><stop offset="0" stop-color="#0fb1b6"/><stop offset=".15" stop-color="#0fb1b6" stop-opacity=".85"/><stop offset="1" stop-color="#0fb1b6" stop-opacity="0"/></linearGradient><linearGradient id="g35" gradientUnits="userSpaceOnUse" x1="535.50" y1="1079.58" x2="529.96" y2="1075.70"><stop offset="0" stop-color="#0fb1b6"/><stop offset=".15" stop-color="#0fb1b6" stop-opacity=".85"/><stop offset="1" stop-color="#0fb1b6" stop-opacity="0"/></linearGradient><linearGradient id="g36" gradientUnits="userSpaceOnUse" x1="548.40" y1="1079.58" x2="539.12" y2="1075.70"><stop offset="0" stop-color="#0fb1b6"/><stop offset=".15" stop-color="#0fb1b6" stop-opacity=".85"/><stop offset="1" stop-color="#0fb1b6" stop-opacity="0"/></linearGradient><linearGradient id="g37" gradientUnits="userSpaceOnUse" x1="561.30" y1="1079.58" x2="548.28" y2="1075.70"><stop offset="0" stop-color="#0fb1b6"/><stop offset=".15" stop-color="#0fb1b6" stop-opacity=".85"/><stop offset="1" stop-color="#0fb1b6" stop-opacity="0"/></linearGradient><linearGradient id="g40" gradientUnits="userSpaceOnUse" x1="471.00" y1="1092.44" x2="484.17" y2="1084.83"><stop offset="0" stop-color="#0fb1b6"/><stop offset=".15" stop-color="#0fb1b6" stop-opacity=".85"/><stop offset="1" stop-color="#0fb1b6" stop-opacity="0"/></linearGradient><linearGradient id="g41" gradientUnits="userSpaceOnUse" x1="483.90" y1="1092.44" x2="493.32" y2="1084.83"><stop offset="0" stop-color="#0fb1b6"/><stop offset=".15" stop-color="#0fb1b6" stop-opacity=".85"/><stop offset="1" stop-color="#0fb1b6" stop-opacity="0"/></linearGradient><linearGradient id="g42" gradientUnits="userSpaceOnUse" x1="496.80" y1="1092.44" x2="502.48" y2="1084.83"><stop offset="0" stop-color="#0fb1b6"/><stop offset=".15" stop-color="#0fb1b6" stop-opacity=".85"/><stop offset="1" stop-color="#0fb1b6" stop-opacity="0"/></linearGradient><linearGradient id="g43" gradientUnits="userSpaceOnUse" x1="509.70" y1="1092.44" x2="511.64" y2="1084.83"><stop offset="0" stop-color="#0fb1b6"/><stop offset=".15" stop-color="#0fb1b6" stop-opacity=".85"/><stop offset="1" stop-color="#0fb1b6" stop-opacity="0"/></linearGradient><linearGradient id="g44" gradientUnits="userSpaceOnUse" x1="522.60" y1="1092.44" x2="520.80" y2="1084.83"><stop offset="0" stop-color="#0fb1b6"/><stop offset=".15" stop-color="#0fb1b6" stop-opacity=".85"/><stop offset="1" stop-color="#0fb1b6" stop-opacity="0"/></linearGradient><linearGradient id="g45" gradientUnits="userSpaceOnUse" x1="535.50" y1="1092.44" x2="529.96" y2="1084.83"><stop offset="0" stop-color="#0fb1b6"/><stop offset=".15" stop-color="#0fb1b6" stop-opacity=".85"/><stop offset="1" stop-color="#0fb1b6" stop-opacity="0"/></linearGradient><linearGradient id="g46" gradientUnits="userSpaceOnUse" x1="548.40" y1="1092.44" x2="539.12" y2="1084.83"><stop offset="0" stop-color="#0fb1b6"/><stop offset=".15" stop-color="#0fb1b6" stop-opacity=".85"/><stop offset="1" stop-color="#0fb1b6" stop-opacity="0"/></linearGradient><linearGradient id="g47" gradientUnits="userSpaceOnUse" x1="561.30" y1="1092.44" x2="548.28" y2="1084.83"><stop offset="0" stop-color="#0fb1b6"/><stop offset=".15" stop-color="#0fb1b6" stop-opacity=".85"/><stop offset="1" stop-color="#0fb1b6" stop-opacity="0"/></linearGradient><linearGradient id="g50" gradientUnits="userSpaceOnUse" x1="471.00" y1="1105.30" x2="484.17" y2="1093.96"><stop offset="0" stop-color="#0fb1b6"/><stop offset=".15" stop-color="#0fb1b6" stop-opacity=".85"/><stop offset="1" stop-color="#0fb1b6" stop-opacity="0"/></linearGradient><linearGradient id="g51" gradientUnits="userSpaceOnUse" x1="483.90" y1="1105.30" x2="493.32" y2="1093.96"><stop offset="0" stop-color="#0fb1b6"/><stop offset=".15" stop-color="#0fb1b6" stop-opacity=".85"/><stop offset="1" stop-color="#0fb1b6" stop-opacity="0"/></linearGradient><linearGradient id="g52" gradientUnits="userSpaceOnUse" x1="496.80" y1="1105.30" x2="502.48" y2="1093.96"><stop offset="0" stop-color="#0fb1b6"/><stop offset=".15" stop-color="#0fb1b6" stop-opacity=".85"/><stop offset="1" stop-color="#0fb1b6" stop-opacity="0"/></linearGradient><linearGradient id="g53" gradientUnits="userSpaceOnUse" x1="509.70" y1="1105.30" x2="511.64" y2="1093.96"><stop offset="0" stop-color="#0fb1b6"/><stop offset=".15" stop-color="#0fb1b6" stop-opacity=".85"/><stop offset="1" stop-color="#0fb1b6" stop-opacity="0"/></linearGradient><linearGradient id="g54" gradientUnits="userSpaceOnUse" x1="522.60" y1="1105.30" x2="520.80" y2="1093.96"><stop offset="0" stop-color="#0fb1b6"/><stop offset=".15" stop-color="#0fb1b6" stop-opacity=".85"/><stop offset="1" stop-color="#0fb1b6" stop-opacity="0"/></linearGradient><linearGradient id="g55" gradientUnits="userSpaceOnUse" x1="535.50" y1="1105.30" x2="529.96" y2="1093.96"><stop offset="0" stop-color="#0fb1b6"/><stop offset=".15" stop-color="#0fb1b6" stop-opacity=".85"/><stop offset="1" stop-color="#0fb1b6" stop-opacity="0"/></linearGradient><linearGradient id="g56" gradientUnits="userSpaceOnUse" x1="548.40" y1="1105.30" x2="539.12" y2="1093.96"><stop offset="0" stop-color="#0fb1b6"/><stop offset=".15" stop-color="#0fb1b6" stop-opacity=".85"/><stop offset="1" stop-color="#0fb1b6" stop-opacity="0"/></linearGradient><linearGradient id="g57" gradientUnits="userSpaceOnUse" x1="561.30" y1="1105.30" x2="548.28" y2="1093.96"><stop offset="0" stop-color="#0fb1b6"/><stop offset=".15" stop-color="#0fb1b6" stop-opacity=".85"/><stop offset="1" stop-color="#0fb1b6" stop-opacity="0"/></linearGradient><linearGradient id="g60" gradientUnits="userSpaceOnUse" x1="471.00" y1="1118.16" x2="484.17" y2="1103.09"><stop offset="0" stop-color="#0fb1b6"/><stop offset=".15" stop-color="#0fb1b6" stop-opacity=".85"/><stop offset="1" stop-color="#0fb1b6" stop-opacity="0"/></linearGradient><linearGradient id="g61" gradientUnits="userSpaceOnUse" x1="483.90" y1="1118.16" x2="493.32" y2="1103.09"><stop offset="0" stop-color="#0fb1b6"/><stop offset=".15" stop-color="#0fb1b6" stop-opacity=".85"/><stop offset="1" stop-color="#0fb1b6" stop-opacity="0"/></linearGradient><linearGradient id="g62" gradientUnits="userSpaceOnUse" x1="496.80" y1="1118.16" x2="502.48" y2="1103.09"><stop offset="0" stop-color="#0fb1b6"/><stop offset=".15" stop-color="#0fb1b6" stop-opacity=".85"/><stop offset="1" stop-color="#0fb1b6" stop-opacity="0"/></linearGradient><linearGradient id="g63" gradientUnits="userSpaceOnUse" x1="509.70" y1="1118.16" x2="511.64" y2="1103.09"><stop offset="0" stop-color="#0fb1b6"/><stop offset=".15" stop-color="#0fb1b6" stop-opacity=".85"/><stop offset="1" stop-color="#0fb1b6" stop-opacity="0"/></linearGradient><linearGradient id="g64" gradientUnits="userSpaceOnUse" x1="522.60" y1="1118.16" x2="520.80" y2="1103.09"><stop offset="0" stop-color="#0fb1b6"/><stop offset=".15" stop-color="#0fb1b6" stop-opacity=".85"/><stop offset="1" stop-color="#0fb1b6" stop-opacity="0"/></linearGradient><linearGradient id="g65" gradientUnits="userSpaceOnUse" x1="535.50" y1="1118.16" x2="529.96" y2="1103.09"><stop offset="0" stop-color="#0fb1b6"/><stop offset=".15" stop-color="#0fb1b6" stop-opacity=".85"/><stop offset="1" stop-color="#0fb1b6" stop-opacity="0"/></linearGradient><linearGradient id="g66" gradientUnits="userSpaceOnUse" x1="548.40" y1="1118.16" x2="539.12" y2="1103.09"><stop offset="0" stop-color="#0fb1b6"/><stop offset=".15" stop-color="#0fb1b6" stop-opacity=".85"/><stop offset="1" stop-color="#0fb1b6" stop-opacity="0"/></linearGradient><linearGradient id="g67" gradientUnits="userSpaceOnUse" x1="561.30" y1="1118.16" x2="548.28" y2="1103.09"><stop offset="0" stop-color="#0fb1b6"/><stop offset=".15" stop-color="#0fb1b6" stop-opacity=".85"/><stop offset="1" stop-color="#0fb1b6" stop-opacity="0"/></linearGradient><linearGradient id="g70" gradientUnits="userSpaceOnUse" x1="471.00" y1="1131.02" x2="484.17" y2="1112.22"><stop offset="0" stop-color="#0fb1b6"/><stop offset=".15" stop-color="#0fb1b6" stop-opacity=".85"/><stop offset="1" stop-color="#0fb1b6" stop-opacity="0"/></linearGradient><linearGradient id="g71" gradientUnits="userSpaceOnUse" x1="483.90" y1="1131.02" x2="493.32" y2="1112.22"><stop offset="0" stop-color="#0fb1b6"/><stop offset=".15" stop-color="#0fb1b6" stop-opacity=".85"/><stop offset="1" stop-color="#0fb1b6" stop-opacity="0"/></linearGradient><linearGradient id="g72" gradientUnits="userSpaceOnUse" x1="496.80" y1="1131.02" x2="502.48" y2="1112.22"><stop offset="0" stop-color="#0fb1b6"/><stop offset=".15" stop-color="#0fb1b6" stop-opacity=".85"/><stop offset="1" stop-color="#0fb1b6" stop-opacity="0"/></linearGradient><linearGradient id="g73" gradientUnits="userSpaceOnUse" x1="509.70" y1="1131.02" x2="511.64" y2="1112.22"><stop offset="0" stop-color="#0fb1b6"/><stop offset=".15" stop-color="#0fb1b6" stop-opacity=".85"/><stop offset="1" stop-color="#0fb1b6" stop-opacity="0"/></linearGradient><linearGradient id="g74" gradientUnits="userSpaceOnUse" x1="522.60" y1="1131.02" x2="520.80" y2="1112.22"><stop offset="0" stop-color="#0fb1b6"/><stop offset=".15" stop-color="#0fb1b6" stop-opacity=".85"/><stop offset="1" stop-color="#0fb1b6" stop-opacity="0"/></linearGradient><linearGradient id="g75" gradientUnits="userSpaceOnUse" x1="535.50" y1="1131.02" x2="529.96" y2="1112.22"><stop offset="0" stop-color="#0fb1b6"/><stop offset=".15" stop-color="#0fb1b6" stop-opacity=".85"/><stop offset="1" stop-color="#0fb1b6" stop-opacity="0"/></linearGradient><linearGradient id="g76" gradientUnits="userSpaceOnUse" x1="548.40" y1="1131.02" x2="539.12" y2="1112.22"><stop offset="0" stop-color="#0fb1b6"/><stop offset=".15" stop-color="#0fb1b6" stop-opacity=".85"/><stop offset="1" stop-color="#0fb1b6" stop-opacity="0"/></linearGradient><linearGradient id="g77" gradientUnits="userSpaceOnUse" x1="561.30" y1="1131.02" x2="548.28" y2="1112.22"><stop offset="0" stop-color="#0fb1b6"/><stop offset=".15" stop-color="#0fb1b6" stop-opacity=".85"/><stop offset="1" stop-color="#0fb1b6" stop-opacity="0"/></linearGradient></defs>
<path d="M469 1039L473 1039L485.16 1047.31L485.16 1049.3L483.17 1049.3L469 1043Z" fill="url(#g00)"/>
<rect x="469.00" y="1039.00" width="4.0" height="4.0" fill="#0fb1b6"/>
<path d="M481.9 1039L485.9 1039L494.32 1047.31L494.32 1049.3L492.33 1049.3L481.9 1043Z" fill="url(#g01)"/>
<rect x="481.90" y="1039.00" width="4.0" height="4.0" fill="#0fb1b6"/>
<path d="M494.8 1039L498.8 1039L503.48 1047.31L503.48 1049.3L501.49 1049.3L494.8 1043Z" fill="url(#g02)"/>
<rect x="494.80" y="1039.00" width="4.0" height="4.0" fill="#0fb1b6"/>
<path d="M507.7 1039L511.7 1039L512.64 1047.31L512.64 1049.3L510.65 1049.3L507.7 1043Z" fill="url(#g03)"/>
<rect x="507.70" y="1039.00" width="4.0" height="4.0" fill="#0fb1b6"/>
<path d="M519.81 1047.31L520.6 1039L524.6 1039L524.6 1043L521.8 1049.3L519.81 1049.3Z" fill="url(#g04)"/>
<rect x="520.60" y="1039.00" width="4.0" height="4.0" fill="#0fb1b6"/>
<path d="M528.97 1047.31L533.5 1039L537.5 1039L537.5 1043L530.96 1049.3L528.97 1049.3Z" fill="url(#g05)"/>
<rect x="533.50" y="1039.00" width="4.0" height="4.0" fill="#0fb1b6"/>
<path d="M538.13 1047.31L546.4 1039L550.4 1039L550.4 1043L540.11 1049.3L538.13 1049.3Z" fill="url(#g06)"/>
<rect x="546.40" y="1039.00" width="4.0" height="4.0" fill="#0fb1b6"/>
<path d="M547.28 1047.31L559.3 1039L563.3 1039L563.3 1043L549.27 1049.3L547.28 1049.3Z" fill="url(#g07)"/>
<rect x="559.30" y="1039.00" width="4.0" height="4.0" fill="#0fb1b6"/>
<path d="M469 1051.86L473 1051.86L485.16 1056.44L485.16 1058.43L483.17 1058.43L469 1055.86Z" fill="url(#g10)"/>
<rect x="469.00" y="1051.86" width="4.0" height="4.0" fill="#0fb1b6"/>
<path d="M481.9 1051.86L485.9 1051.86L494.32 1056.44L494.32 1058.43L492.33 1058.43L481.9 1055.86Z" fill="url(#g11)"/>
<rect x="481.90" y="1051.86" width="4.0" height="4.0" fill="#0fb1b6"/>
<path d="M494.8 1051.86L498.8 1051.86L503.48 1056.44L503.48 1058.43L501.49 1058.43L494.8 1055.86Z" fill="url(#g12)"/>
<rect x="494.80" y="1051.86" width="4.0" height="4.0" fill="#0fb1b6"/>
<path d="M507.7 1051.86L511.7 1051.86L512.64 1056.44L512.64 1058.43L510.65 1058.43L507.7 1055.86Z" fill="url(#g13)"/>
<rect x="507.70" y="1051.86" width="4.0" height="4.0" fill="#0fb1b6"/>
<path d="M519.81 1056.44L520.6 1051.86L524.6 1051.86L524.6 1055.86L521.8 1058.43L519.81 1058.43Z" fill="url(#g14)"/>
<rect x="520.60" y="1051.86" width="4.0" height="4.0" fill="#0fb1b6"/>
<path d="M528.97 1056.44L533.5 1051.86L537.5 1051.86L537.5 1055.86L530.96 1058.43L528.97 1058.43Z" fill="url(#g15)"/>
<rect x="533.50" y="1051.86" width="4.0" height="4.0" fill="#0fb1b6"/>
<path d="M538.13 1056.44L546.4 1051.86L550.4 1051.86L550.4 1055.86L540.11 1058.43L538.13 1058.43Z" fill="url(#g16)"/>
<rect x="546.40" y="1051.86" width="4.0" height="4.0" fill="#0fb1b6"/>
<path d="M547.28 1056.44L559.3 1051.86L563.3 1051.86L563.3 1055.86L549.27 1058.43L547.28 1058.43Z" fill="url(#g17)"/>
<rect x="559.30" y="1051.86" width="4.0" height="4.0" fill="#0fb1b6"/>
<path d="M469 1064.72L473 1064.72L485.16 1065.58L485.16 1067.56L473 1068.72L469 1068.72Z" fill="url(#g20)"/>
<rect x="469.00" y="1064.72" width="4.0" height="4.0" fill="#0fb1b6"/>
<path d="M481.9 1064.72L485.9 1064.72L494.32 1065.58L494.32 1067.56L485.9 1068.72L481.9 1068.72Z" fill="url(#g21)"/>
<rect x="481.90" y="1064.72" width="4.0" height="4.0" fill="#0fb1b6"/>
<path d="M494.8 1064.72L498.8 1064.72L503.48 1065.58L503.48 1067.56L498.8 1068.72L494.8 1068.72Z" fill="url(#g22)"/>
<rect x="494.80" y="1064.72" width="4.0" height="4.0" fill="#0fb1b6"/>
<path d="M507.7 1064.72L511.7 1064.72L512.64 1065.58L512.64 1067.56L511.7 1068.72L507.7 1068.72Z" fill="url(#g23)"/>
<rect x="507.70" y="1064.72" width="4.0" height="4.0" fill="#0fb1b6"/>
<path d="M519.81 1065.58L520.6 1064.72L524.6 1064.72L524.6 1068.72L520.6 1068.72L519.81 1067.56Z" fill="url(#g24)"/>
<rect x="520.60" y="1064.72" width="4.0" height="4.0" fill="#0fb1b6"/>
<path d="M528.97 1065.58L533.5 1064.72L537.5 1064.72L537.5 1068.72L533.5 1068.72L528.97 1067.56Z" fill="url(#g25)"/>
<rect x="533.50" y="1064.72" width="4.0" height="4.0" fill="#0fb1b6"/>
<path d="M538.13 1065.58L546.4 1064.72L550.4 1064.72L550.4 1068.72L546.4 1068.72L538.13 1067.56Z" fill="url(#g26)"/>
<rect x="546.40" y="1064.72" width="4.0" height="4.0" fill="#0fb1b6"/>
<path d="M547.28 1065.58L559.3 1064.72L563.3 1064.72L563.3 1068.72L559.3 1068.72L547.28 1067.56Z" fill="url(#g27)"/>
<rect x="559.30" y="1064.72" width="4.0" height="4.0" fill="#0fb1b6"/>
<path d="M469 1077.58L483.17 1074.71L485.16 1074.71L485.16 1076.69L473 1081.58L469 1081.58Z" fill="url(#g30)"/>
<rect x="469.00" y="1077.58" width="4.0" height="4.0" fill="#0fb1b6"/>
<path d="M481.9 1077.58L492.33 1074.71L494.32 1074.71L494.32 1076.69L485.9 1081.58L481.9 1081.58Z" fill="url(#g31)"/>
<rect x="481.90" y="1077.58" width="4.0" height="4.0" fill="#0fb1b6"/>
<path d="M494.8 1077.58L501.49 1074.71L503.48 1074.71L503.48 1076.69L498.8 1081.58L494.8 1081.58Z" fill="url(#g32)"/>
<rect x="494.80" y="1077.58" width="4.0" height="4.0" fill="#0fb1b6"/>
<path d="M507.7 1077.58L510.65 1074.71L512.64 1074.71L512.64 1076.69L511.7 1081.58L507.7 1081.58Z" fill="url(#g33)"/>
<rect x="507.70" y="1077.58" width="4.0" height="4.0" fill="#0fb1b6"/>
<path d="M519.81 1074.71L521.8 1074.71L524.6 1077.58L524.6 1081.58L520.6 1081.58L519.81 1076.69Z" fill="url(#g34)"/>
<rect x="520.60" y="1077.58" width="4.0" height="4.0" fill="#0fb1b6"/>
<path d="M528.97 1074.71L530.96 1074.71L537.5 1077.58L537.5 1081.58L533.5 1081.58L528.97 1076.69Z" fill="url(#g35)"/>
<rect x="533.50" y="1077.58" width="4.0" height="4.0" fill="#0fb1b6"/>
<path d="M538.13 1074.71L540.11 1074.71L550.4 1077.58L550.4 1081.58L546.4 1081.58L538.13 1076.69Z" fill="url(#g36)"/>
<rect x="546.40" y="1077.58" width="4.0" height="4.0" fill="#0fb1b6"/>
<path d="M547.28 1074.71L549.27 1074.71L563.3 1077.58L563.3 1081.58L559.3 1081.58L547.28 1076.69Z" fill="url(#g37)"/>
<rect x="559.30" y="1077.58" width="4.0" height="4.0" fill="#0fb1b6"/>
<path d="M469 1090.44L483.17 1083.84L485.16 1083.84L485.16 1085.82L473 1094.44L469 1094.44Z" fill="url(#g40)"/>
<rect x="469.00" y="1090.44" width="4.0" height="4.0" fill="#0fb1b6"/>
<path d="M481.9 1090.44L492.33 1083.84L494.32 1083.84L494.32 1085.82L485.9 1094.44L481.9 1094.44Z" fill="url(#g41)"/>
<rect x="481.90" y="1090.44" width="4.0" height="4.0" fill="#0fb1b6"/>
<path d="M494.8 1090.44L501.49 1083.84L503.48 1083.84L503.48 1085.82L498.8 1094.44L494.8 1094.44Z" fill="url(#g42)"/>
<rect x="494.80" y="1090.44" width="4.0" height="4.0" fill="#0fb1b6"/>
<path d="M507.7 1090.44L510.65 1083.84L512.64 1083.84L512.64 1085.82L511.7 1094.44L507.7 1094.44Z" fill="url(#g43)"/>
<rect x="507.70" y="1090.44" width="4.0" height="4.0" fill="#0fb1b6"/>
<path d="M519.81 1083.84L521.8 1083.84L524.6 1090.44L524.6 1094.44L520.6 1094.44L519.81 1085.82Z" fill="url(#g44)"/>
<rect x="520.60" y="1090.44" width="4.0" height="4.0" fill="#0fb1b6"/>
<path d="M528.97 1083.84L530.96 1083.84L537.5 1090.44L537.5 1094.44L533.5 1094.44L528.97 1085.82Z" fill="url(#g45)"/>
<rect x="533.50" y="1090.44" width="4.0" height="4.0" fill="#0fb1b6"/>
<path d="M538.13 1083.84L540.11 1083.84L550.4 1090.44L550.4 1094.44L546.4 1094.44L538.13 1085.82Z" fill="url(#g46)"/>
<rect x="546.40" y="1090.44" width="4.0" height="4.0" fill="#0fb1b6"/>
<path d="M547.28 1083.84L549.27 1083.84L563.3 1090.44L563.3 1094.44L559.3 1094.44L547.28 1085.82Z" fill="url(#g47)"/>
<rect x="559.30" y="1090.44" width="4.0" height="4.0" fill="#0fb1b6"/>
<path d="M469 1103.3L483.17 1092.97L485.16 1092.97L485.16 1094.95L473 1107.3L469 1107.3Z" fill="url(#g50)"/>
<rect x="469.00" y="1103.30" width="4.0" height="4.0" fill="#0fb1b6"/>
<path d="M481.9 1103.3L492.33 1092.97L494.32 1092.97L494.32 1094.95L485.9 1107.3L481.9 1107.3Z" fill="url(#g51)"/>
<rect x="481.90" y="1103.30" width="4.0" height="4.0" fill="#0fb1b6"/>
<path d="M494.8 1103.3L501.49 1092.97L503.48 1092.97L503.48 1094.95L498.8 1107.3L494.8 1107.3Z" fill="url(#g52)"/>
<rect x="494.80" y="1103.30" width="4.0" height="4.0" fill="#0fb1b6"/>
<path d="M507.7 1103.3L510.65 1092.97L512.64 1092.97L512.64 1094.95L511.7 1107.3L507.7 1107.3Z" fill="url(#g53)"/>
<rect x="507.70" y="1103.30" width="4.0" height="4.0" fill="#0fb1b6"/>
<path d="M519.81 1092.97L521.8 1092.97L524.6 1103.3L524.6 1107.3L520.6 1107.3L519.81 1094.95Z" fill="url(#g54)"/>
<rect x="520.60" y="1103.30" width="4.0" height="4.0" fill="#0fb1b6"/>
<path d="M528.97 1092.97L530.96 1092.97L537.5 1103.3L537.5 1107.3L533.5 1107.3L528.97 1094.95Z" fill="url(#g55)"/>
<rect x="533.50" y="1103.30" width="4.0" height="4.0" fill="#0fb1b6"/>
<path d="M538.13 1092.97L540.11 1092.97L550.4 1103.3L550.4 1107.3L546.4 1107.3L538.13 1094.95Z" fill="url(#g56)"/>
<rect x="546.40" y="1103.30" width="4.0" height="4.0" fill="#0fb1b6"/>
<path d="M547.28 1092.97L549.27 1092.97L563.3 1103.3L563.3 1107.3L559.3 1107.3L547.28 1094.95Z" fill="url(#g57)"/>
<rect x="559.30" y="1103.30" width="4.0" height="4.0" fill="#0fb1b6"/>
<path d="M469 1116.16L483.17 1102.1L485.16 1102.1L485.16 1104.09L473 1120.16L469 1120.16Z" fill="url(#g60)"/>
<rect x="469.00" y="1116.16" width="4.0" height="4.0" fill="#0fb1b6"/>
<path d="M481.9 1116.16L492.33 1102.1L494.32 1102.1L494.32 1104.09L485.9 1120.16L481.9 1120.16Z" fill="url(#g61)"/>
<rect x="481.90" y="1116.16" width="4.0" height="4.0" fill="#0fb1b6"/>
<path d="M494.8 1116.16L501.49 1102.1L503.48 1102.1L503.48 1104.09L498.8 1120.16L494.8 1120.16Z" fill="url(#g62)"/>
<rect x="494.80" y="1116.16" width="4.0" height="4.0" fill="#0fb1b6"/>
<path d="M507.7 1116.16L510.65 1102.1L512.64 1102.1L512.64 1104.09L511.7 1120.16L507.7 1120.16Z" fill="url(#g63)"/>
<rect x="507.70" y="1116.16" width="4.0" height="4.0" fill="#0fb1b6"/>
<path d="M519.81 1102.1L521.8 1102.1L524.6 1116.16L524.6 1120.16L520.6 1120.16L519.81 1104.09Z" fill="url(#g64)"/>
<rect x="520.60" y="1116.16" width="4.0" height="4.0" fill="#0fb1b6"/>
<path d="M528.97 1102.1L530.96 1102.1L537.5 1116.16L537.5 1120.16L533.5 1120.16L528.97 1104.09Z" fill="url(#g65)"/>
<rect x="533.50" y="1116.16" width="4.0" height="4.0" fill="#0fb1b6"/>
<path d="M538.13 1102.1L540.11 1102.1L550.4 1116.16L550.4 1120.16L546.4 1120.16L538.13 1104.09Z" fill="url(#g66)"/>
<rect x="546.40" y="1116.16" width="4.0" height="4.0" fill="#0fb1b6"/>
<path d="M547.28 1102.1L549.27 1102.1L563.3 1116.16L563.3 1120.16L559.3 1120.16L547.28 1104.09Z" fill="url(#g67)"/>
<rect x="559.30" y="1116.16" width="4.0" height="4.0" fill="#0fb1b6"/>
<path d="M469 1129.02L483.17 1111.23L485.16 1111.23L485.16 1113.22L473 1133.02L469 1133.02Z" fill="url(#g70)"/>
<rect x="469.00" y="1129.02" width="4.0" height="4.0" fill="#0fb1b6"/>
<path d="M481.9 1129.02L492.33 1111.23L494.32 1111.23L494.32 1113.22L485.9 1133.02L481.9 1133.02Z" fill="url(#g71)"/>
<rect x="481.90" y="1129.02" width="4.0" height="4.0" fill="#0fb1b6"/>
<path d="M494.8 1129.02L501.49 1111.23L503.48 1111.23L503.48 1113.22L498.8 1133.02L494.8 1133.02Z" fill="url(#g72)"/>
<rect x="494.80" y="1129.02" width="4.0" height="4.0" fill="#0fb1b6"/>
<path d="M507.7 1129.02L510.65 1111.23L512.64 1111.23L512.64 1113.22L511.7 1133.02L507.7 1133.02Z" fill="url(#g73)"/>
<rect x="507.70" y="1129.02" width="4.0" height="4.0" fill="#0fb1b6"/>
<path d="M519.81 1111.23L521.8 1111.23L524.6 1129.02L524.6 1133.02L520.6 1133.02L519.81 1113.22Z" fill="url(#g74)"/>
<rect x="520.60" y="1129.02" width="4.0" height="4.0" fill="#0fb1b6"/>
<path d="M528.97 1111.23L530.96 1111.23L537.5 1129.02L537.5 1133.02L533.5 1133.02L528.97 1113.22Z" fill="url(#g75)"/>
<rect x="533.50" y="1129.02" width="4.0" height="4.0" fill="#0fb1b6"/>
<path d="M538.13 1111.23L540.11 1111.23L550.4 1129.02L550.4 1133.02L546.4 1133.02L538.13 1113.22Z" fill="url(#g76)"/>
<rect x="546.40" y="1129.02" width="4.0" height="4.0" fill="#0fb1b6"/>
<path d="M547.28 1111.23L549.27 1111.23L563.3 1129.02L563.3 1133.02L559.3 1133.02L547.28 1113.22Z" fill="url(#g77)"/>
<rect x="559.30" y="1129.02" width="4.0" height="4.0" fill="#0fb1b6"/></g>
<g id="texts">
<text id="t1" class="ttl" transform="translate(115.18 185.00) scale(0.8 1)" font-size="43.40" textLength="1206.24" lengthAdjust="spacing">SON 5 İLDƏ İŞĞALDAN AZAD OLUNMUŞ ƏRAZİLƏRDƏ</text>
<text id="t2" class="ttl" transform="translate(248.82 236.00) scale(0.8 1)" font-size="43.40" textLength="872.96" lengthAdjust="spacing">ZƏRƏRSİZLƏŞDİRİLƏN PARTLAMAMIŞ</text>
<text id="t3" class="ttl" transform="translate(426.76 288.00) scale(0.8 1)" font-size="43.40" textLength="428.21" lengthAdjust="spacing">HƏRBİ SURSATLAR</text>
<text id="a0" class="ax" x="110.08" y="887.60" font-size="22.00" textLength="10.97" lengthAdjust="spacingAndGlyphs">0</text>
<text id="a1" class="ax" x="64.61" y="817.10" font-size="22.00" textLength="56.81" lengthAdjust="spacingAndGlyphs">10 000</text>
<text id="a2" class="ax" x="62.86" y="746.60" font-size="22.00" textLength="58.61" lengthAdjust="spacingAndGlyphs">20 000</text>
<text id="a3" class="ax" x="63.04" y="676.10" font-size="22.00" textLength="58.16" lengthAdjust="spacingAndGlyphs">30 000</text>
<text id="a4" class="ax" x="63.20" y="605.60" font-size="22.00" textLength="58.02" lengthAdjust="spacingAndGlyphs">40 000</text>
<text id="a5" class="ax" x="62.84" y="535.10" font-size="22.00" textLength="58.70" lengthAdjust="spacingAndGlyphs">50 000</text>
<text id="a6" class="ax" x="62.29" y="464.60" font-size="22.00" textLength="58.92" lengthAdjust="spacingAndGlyphs">60 000</text>
<text id="a7" class="ax" x="64.32" y="394.10" font-size="22.00" textLength="57.13" lengthAdjust="spacingAndGlyphs">70 000</text>
<text id="v0" class="val" x="221.44" y="756.21" font-size="22.40" textLength="53.28" lengthAdjust="spacingAndGlyphs">21 942</text>
<text id="y0" class="ax" x="226.23" y="915.15" font-size="22.00" textLength="37.99" lengthAdjust="spacingAndGlyphs">2021</text>
<text id="v1" class="val" x="421.57" y="805.50" font-size="22.40" textLength="55.77" lengthAdjust="spacingAndGlyphs">14 950</text>
<text id="y1" class="ax" x="426.94" y="915.15" font-size="22.00" textLength="41.47" lengthAdjust="spacingAndGlyphs">2022</text>
<text id="v2" class="val" x="623.62" y="748.40" font-size="22.40" textLength="57.24" lengthAdjust="spacingAndGlyphs">23 049</text>
<text id="y2" class="ax" x="629.75" y="915.15" font-size="22.00" textLength="40.83" lengthAdjust="spacingAndGlyphs">2023</text>
<text id="v3" class="val" x="827.28" y="493.80" font-size="22.40" textLength="54.70" lengthAdjust="spacingAndGlyphs">59 163</text>
<text id="y3" class="ax" x="831.42" y="915.15" font-size="22.00" textLength="41.52" lengthAdjust="spacingAndGlyphs">2024</text>
<text id="v4" class="val" x="1028.97" y="541.54" font-size="22.40" textLength="55.99" lengthAdjust="spacingAndGlyphs">52 392</text>
<text id="y4" class="ax" x="1034.16" y="915.15" font-size="22.00" textLength="41.67" lengthAdjust="spacingAndGlyphs">2025</text>
<text id="p1" class="pct" x="431.52" y="767.20" font-size="17.40" textLength="51.40" lengthAdjust="spacingAndGlyphs">31,9%</text>
<text id="p2" class="pct" x="632.47" y="711.20" font-size="17.40" textLength="56.12" lengthAdjust="spacingAndGlyphs">54,2%</text>
<text id="p3" class="pct" x="829.67" y="455.50" font-size="17.40" textLength="63.52" lengthAdjust="spacingAndGlyphs">156,7%</text>
<text id="p4" class="pct" x="1040.71" y="504.20" font-size="17.40" textLength="46.40" lengthAdjust="spacingAndGlyphs">11,4%</text>
<text id="m0" class="mtm" x="580.92" y="1101.90" font-size="52.40" textLength="154.18" lengthAdjust="spacingAndGlyphs">MTM</text>
</g>
</svg>
</body>
</html>
